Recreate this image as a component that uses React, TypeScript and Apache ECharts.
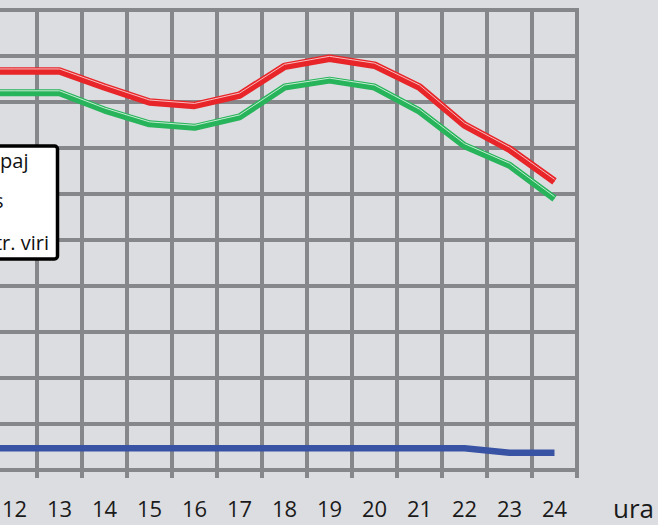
import React, { useEffect, useRef } from "react";
import * as echarts from "echarts";

const hours = ["11", "12", "13", "14", "15", "16", "17", "18", "19", "20", "21", "22", "23", "24"];
const totalLoad = [1735, 1735, 1735, 1665, 1600, 1585, 1630, 1755, 1790, 1760, 1665, 1500, 1395, 1255];
const transmission = [1640, 1640, 1640, 1565, 1505, 1490, 1535, 1665, 1695, 1665, 1560, 1410, 1325, 1180];
const distributed = [95, 95, 95, 95, 95, 95, 95, 95, 95, 95, 95, 95, 75, 75];
const legendLabels = ["Skupaj", "Prenos", "Distr. viri"];
const axisName = "ura";

const GRID = "#86878b";
const BG = "#dcdde0";
const RED = "#e8262a";
const GREEN = "#27b45b";
const BLUE = "#3853a4";

// the chart canvas is wider than the view and shifted left so that only hours 12-24 show
const SHIFT = 53;
const CW = 658 + SHIFT;

export default function App() {
  const ref = useRef<HTMLDivElement>(null);
  useEffect(() => {
    if (!ref.current) return;
    const chart = echarts.init(ref.current, undefined, { renderer: "svg" });
    const font = "'Open Sans', 'Noto Sans', sans-serif";
    chart.setOption({
      animation: false,
      backgroundColor: BG,
      grid: {
        left: 0,
        right: 81,
        top: 10,
        bottom: 55,
        show: true,
        borderColor: GRID,
        borderWidth: 4,
        backgroundColor: "transparent",
      },
      xAxis: {
        type: "category",
        data: hours,
        boundaryGap: true,
        axisLine: { show: true, lineStyle: { color: GRID, width: 4 } },
        axisTick: { show: true, length: 8, lineStyle: { color: GRID, width: 4 } },
        splitLine: { show: true, lineStyle: { color: GRID, width: 4 } },
        axisLabel: { fontSize: 22, color: "#1a1a1a", margin: 27, fontFamily: font },
      },
      yAxis: {
        type: "value",
        min: 0,
        max: 2000,
        interval: 200,
        axisLabel: { show: false },
        axisLine: { show: false },
        axisTick: { show: false },
        splitLine: { show: true, lineStyle: { color: GRID, width: 4 } },
      },
      series: [
        {
          name: legendLabels[2],
          type: "line",
          data: distributed,
          symbol: "none",
          lineStyle: { color: BLUE, width: 6.5 },
          z: 3,
        },
        {
          name: legendLabels[1],
          type: "line",
          data: transmission,
          symbol: "none",
          lineStyle: { color: GREEN, width: 7 },
          z: 3,
        },
        {
          name: legendLabels[1] + " hl",
          type: "line",
          data: transmission,
          symbol: "none",
          silent: true,
          lineStyle: {
            color: GREEN,
            width: 1,
            shadowColor: "rgba(225,245,230,0.85)",
            shadowBlur: 0,
            shadowOffsetY: -2,
          },
          z: 4,
        },
        {
          name: legendLabels[0],
          type: "line",
          data: totalLoad,
          symbol: "none",
          lineStyle: { color: RED, width: 7.5 },
          z: 5,
        },
        {
          name: legendLabels[0] + " hl",
          type: "line",
          data: totalLoad,
          symbol: "none",
          silent: true,
          lineStyle: {
            color: RED,
            width: 1,
            shadowColor: "rgba(250,215,215,0.85)",
            shadowBlur: 0,
            shadowOffsetY: -2,
          },
          z: 6,
        },
      ],
      graphic: [
        {
          type: "rect",
          z: 100,
          shape: { x: -150 + SHIFT, y: 146, width: 207.5, height: 113, r: 3 },
          style: { fill: "#ffffff", stroke: "#000000", lineWidth: 3.5 },
        },
        {
          type: "text",
          z: 101,
          x: 28.5 + SHIFT,
          y: 160,
          style: { text: legendLabels[0], fontSize: 20, fontFamily: font, fill: "#111", textAlign: "right", textVerticalAlign: "middle" },
        },
        {
          type: "text",
          z: 101,
          x: 3.5 + SHIFT,
          y: 200,
          style: { text: legendLabels[1], fontSize: 20, fontFamily: font, fill: "#111", textAlign: "right", textVerticalAlign: "middle" },
        },
        {
          type: "text",
          z: 101,
          x: 49 + SHIFT,
          y: 242,
          style: { text: legendLabels[2], fontSize: 20, fontFamily: font, fill: "#111", textAlign: "right", textVerticalAlign: "middle" },
        },
        {
          type: "text",
          z: 101,
          x: 613 + SHIFT,
          y: 508,
          style: { text: axisName, fontSize: 26, fontFamily: font, fill: "#1a1a1a", textAlign: "left", textVerticalAlign: "middle" },
        },
      ],
    });
    return () => chart.dispose();
  }, []);
  return (
    <div style={{ position: "fixed", left: 0, top: 0, width: 658, height: 525, overflow: "hidden", background: BG }}>
      <div ref={ref} style={{ position: "absolute", left: -SHIFT, top: 0, width: CW, height: 525 }} />
    </div>
  );
}
